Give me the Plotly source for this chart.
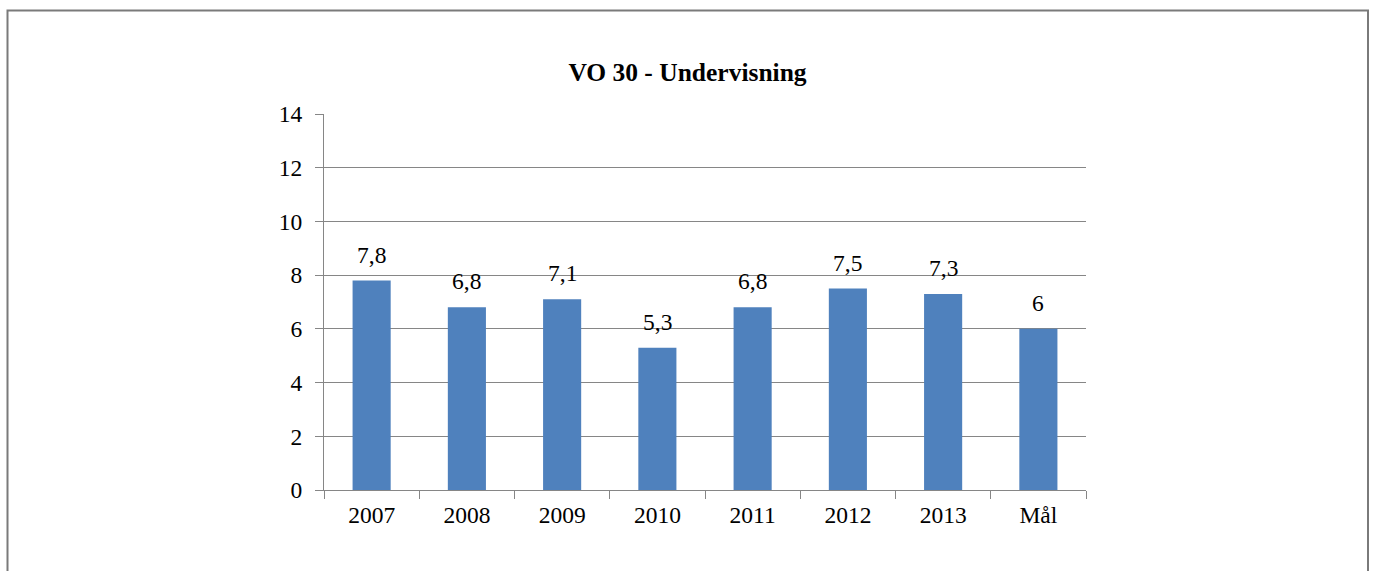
import plotly.graph_objects as go

categories = ["2007", "2008", "2009", "2010", "2011", "2012", "2013", "Mål"]
values = [7.8, 6.8, 7.1, 5.3, 6.8, 7.5, 7.3, 6]
title = "VO 30 - Undervisning"

W, H = 1375, 571
L, R, T, B = 324, 1086, 114, 490
pw, ph = R - L, B - T

def px(x):
    return (x - L) / pw

def py(y):
    return (B - y) / ph

font = "Liberation Serif, Times New Roman, serif"
grid = "#868686"
fs = 23.5

fig = go.Figure()
fig.add_trace(go.Bar(
    x=categories, y=values,
    marker=dict(color="#4F81BD", line=dict(width=0)),
    width=0.4,
    hoverinfo="skip",
))

for i, v in enumerate(values):
    fig.add_annotation(
        x=i, y=v, xref="x", yref="y",
        text=f"{v:g}".replace(".", ","),
        showarrow=False, yanchor="bottom", yshift=11,
        font=dict(family=font, size=fs, color="#000000"),
    )

fig.add_shape(type="rect", xref="paper", yref="paper",
              x0=px(7.5), x1=px(1368), y0=py(620), y1=py(10.5),
              line=dict(color="#7a7a7a", width=2), layer="above")

fig.update_layout(
    width=W, height=H,
    margin=dict(l=L, r=W - R, t=T, b=H - B, pad=0),
    paper_bgcolor="white", plot_bgcolor="white",
    showlegend=False,
    title=dict(text=f"<b>{title}</b>", x=0.5, xanchor="center",
               y=1 - 72 / H, yanchor="middle",
               font=dict(family=font, size=25.5, color="#000000")),
    font=dict(family=font, size=fs, color="#000000"),
)
fig.update_xaxes(
    type="category", range=[-0.5, len(categories) - 0.5],
    showline=True, linecolor=grid, linewidth=1,
    ticks="outside", tickson="boundaries", ticklen=8, tickcolor=grid,
    showgrid=False, tickfont=dict(family=font, size=fs),
    tickangle=0, ticklabelstandoff=4,
)
fig.update_yaxes(
    range=[0, 14], dtick=2, tick0=0,
    showline=True, linecolor=grid, linewidth=1,
    ticks="outside", ticklen=8, tickcolor=grid,
    showgrid=True, gridcolor=grid, gridwidth=1,
    zeroline=False, ticklabelstandoff=8,
    tickfont=dict(family=font, size=fs),
)

fig.write_html("out.html", config={"displayModeBar": False},
               post_script="document.body.style.margin='0';document.body.style.overflow='hidden';")
